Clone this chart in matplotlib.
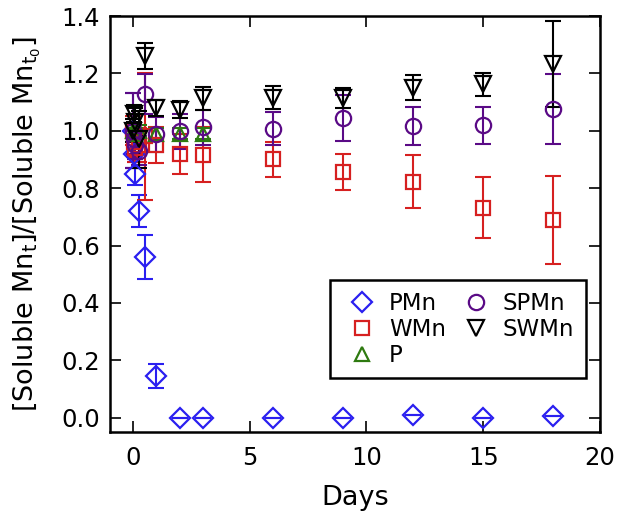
import matplotlib
matplotlib.use("Agg")
import matplotlib.pyplot as plt
import numpy as np

plt.rcParams['font.family'] = ['DejaVu Sans']
plt.rcParams['mathtext.fontset'] = 'dejavusans'

# ---- data ----
t_pmn = [0, 0.04, 0.083, 0.25, 0.5, 1, 2, 3, 6, 9, 12, 15, 18]
v_pmn = [1.0, 0.92, 0.85, 0.72, 0.56, 0.145, 0.0, 0.0, 0.0, 0.0, 0.01, 0.0, 0.005]
e_pmn = [0.13, 0.05, 0.04, 0.057, 0.075, 0.042, 0, 0, 0, 0, 0, 0, 0]

t_wmn = [0, 0.04, 0.083, 0.25, 0.5, 1, 2, 3, 6, 9, 12, 15, 18]
v_wmn = [1.0, 0.96, 0.94, 0.95, 0.98, 0.95, 0.92, 0.917, 0.90, 0.856, 0.823, 0.732, 0.689]
e_wmn = [0.05, 0.05, 0.05, 0.06, 0.22, 0.063, 0.07, 0.096, 0.061, 0.064, 0.091, 0.106, 0.154]

t_p = [0, 0.04, 0.083, 0.25, 1, 2, 3]
v_p = [1.0, 1.0, 0.99, 1.0, 0.99, 0.99, 0.99]
e_p = [0.02, 0.02, 0.02, 0.02, 0.02, 0.02, 0.02]

t_spmn = [0, 0.04, 0.083, 0.25, 0.5, 1, 2, 3, 6, 9, 12, 15, 18]
v_spmn = [1.0, 0.97, 0.95, 0.93, 1.127, 0.987, 0.998, 1.012, 1.007, 1.045, 1.016, 1.019, 1.077]
e_spmn = [0.13, 0.05, 0.05, 0.05, 0.07, 0.06, 0.06, 0.06, 0.057, 0.079, 0.066, 0.064, 0.122]

t_swmn = [0, 0.04, 0.083, 0.25, 0.5, 1, 2, 3, 6, 9, 12, 15, 18]
v_swmn = [1.0, 1.06, 1.03, 0.97, 1.261, 1.08, 1.074, 1.113, 1.115, 1.115, 1.15, 1.162, 1.233]
e_swmn = [0.04, 0.03, 0.05, 0.1, 0.045, 0.028, 0.03, 0.04, 0.04, 0.035, 0.044, 0.04, 0.15]

series = [
    ("PMn", t_pmn, v_pmn, e_pmn, "#2a1ff0", "D", 10),
    ("WMn", t_wmn, v_wmn, e_wmn, "#d62020", "s", 10),
    ("P", t_p, v_p, e_p, "#2e7a10", "^", 10),
    ("SPMn", t_spmn, v_spmn, e_spmn, "#5a0a86", "o", 11),
    ("SWMn", t_swmn, v_swmn, e_swmn, "#000000", "v", 11),
]

fig = plt.figure(figsize=(6.17, 5.15), dpi=100)
ax = fig.add_axes([109.5/617, (515-432)/515, (600-109.5)/617, (432-16)/515])

handles = []
for name, t, v, e, c, m, ms in series:
    ax.errorbar(t, v, yerr=e, fmt='none', ecolor=c, elinewidth=1.5,
                capsize=6, capthick=1.5, zorder=2)
    h, = ax.plot(t, v, linestyle='none', marker=m, ms=ms, mfc='none',
                 mec=c, mew=1.6, label=name, zorder=3)
    handles.append(h)

ax.set_xlim(-1, 20)
ax.set_ylim(-0.05, 1.4)
ax.set_xticks([0, 5, 10, 15, 20])
ax.set_yticks(np.arange(0, 1.41, 0.2))
ax.set_yticklabels([f"{y:.1f}" for y in np.arange(0, 1.41, 0.2)])
ax.tick_params(direction='in', length=8, width=1.2, labelsize=17.5,
               top=True, right=True)
ax.tick_params(axis='x', pad=10)
ax.tick_params(axis='y', pad=7)
for s in ax.spines.values():
    s.set_linewidth(1.8)

ax.set_xlabel("Days", fontsize=19.5, labelpad=11)
ax.set_ylabel(r"[Soluble Mn$_\mathrm{t}$]/[Soluble Mn$_{\mathrm{t}_\mathrm{0}}$]",
              fontsize=19.5, labelpad=13)

leg = ax.legend(handles=handles, ncol=2, numpoints=1, fontsize=16.5,
                loc='lower left', bbox_to_anchor=(330/617, (515-378)/515),
                bbox_transform=fig.transFigure, borderaxespad=0,
                frameon=True, fancybox=False, handletextpad=0.28,
                columnspacing=0.4, labelspacing=0.13, handlelength=1.8,
                borderpad=0.5)
leg.get_frame().set_edgecolor('black')
leg.get_frame().set_linewidth(1.8)
leg.get_frame().set_alpha(1)

fig.savefig("out.png", dpi=100)
